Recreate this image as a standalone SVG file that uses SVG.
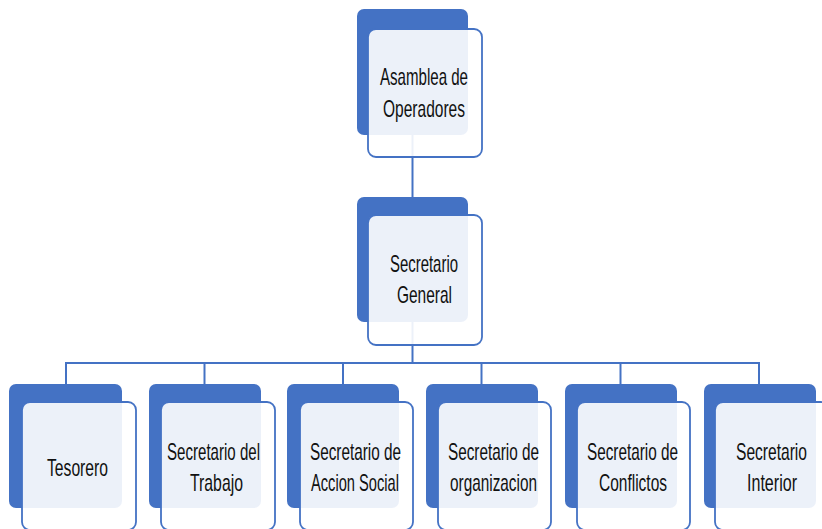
<svg xmlns="http://www.w3.org/2000/svg" width="822" height="529" viewBox="0 0 822 529">
<style>
.back{fill:#4472C4;}
.front{fill:#FFFFFF;fill-opacity:0.9;stroke:#4472C4;stroke-width:1.8;}
.conn{fill:none;stroke:#4472C4;stroke-width:2;}
.lbl{font-family:"Liberation Sans",Arial,sans-serif;font-size:24px;fill:#111111;text-anchor:middle;}
</style>
<rect width="822" height="529" fill="#FFFFFF"/>
<g id="connectors">
<line class="conn" x1="412.5" y1="134" x2="412.5" y2="198"/>
<line class="conn" x1="412.5" y1="321" x2="412.5" y2="363"/>
<polyline class="conn" points="66,385 66,363 759,363 759,385"/>
<line class="conn" x1="204.5" y1="363" x2="204.5" y2="385"/>
<line class="conn" x1="343" y1="363" x2="343" y2="385"/>
<line class="conn" x1="481.5" y1="363" x2="481.5" y2="385"/>
<line class="conn" x1="620.5" y1="363" x2="620.5" y2="385"/>
</g>
<g id="asamblea">
<rect class="back" x="357" y="9" width="111" height="126" rx="7"/>
<rect class="front" x="368" y="29" width="114" height="128" rx="8"/>
<text class="lbl" x="424" y="85" textLength="88" lengthAdjust="spacingAndGlyphs">Asamblea de</text>
<text class="lbl" x="424" y="117" textLength="82" lengthAdjust="spacingAndGlyphs">Operadores</text>
</g>
<g id="secretario-general">
<rect class="back" x="357" y="197" width="111" height="125" rx="7"/>
<rect class="front" x="368" y="215" width="114" height="130" rx="8"/>
<text class="lbl" x="424" y="272" textLength="68" lengthAdjust="spacingAndGlyphs">Secretario</text>
<text class="lbl" x="424.5" y="303" textLength="55" lengthAdjust="spacingAndGlyphs">General</text>
</g>
<g id="tesorero">
<rect class="back" x="9" y="384" width="113" height="124" rx="7"/>
<rect class="front" x="22" y="402" width="114" height="128" rx="8"/>
<text class="lbl" x="77.5" y="476" textLength="61" lengthAdjust="spacingAndGlyphs">Tesorero</text>
</g>
<g id="sec-trabajo">
<rect class="back" x="149" y="384" width="112" height="124" rx="7"/>
<rect class="front" x="161" y="402" width="114" height="128" rx="8"/>
<text class="lbl" x="213.5" y="460" textLength="93" lengthAdjust="spacingAndGlyphs">Secretario del</text>
<text class="lbl" x="216.5" y="491" textLength="53" lengthAdjust="spacingAndGlyphs">Trabajo</text>
</g>
<g id="sec-accion-social">
<rect class="back" x="287" y="384" width="112" height="124" rx="7"/>
<rect class="front" x="300" y="402" width="113" height="128" rx="8"/>
<text class="lbl" x="355.5" y="460" textLength="91" lengthAdjust="spacingAndGlyphs">Secretario de</text>
<text class="lbl" x="355" y="491" textLength="88" lengthAdjust="spacingAndGlyphs">Accion Social</text>
</g>
<g id="sec-organizacion">
<rect class="back" x="426" y="384" width="112" height="124" rx="7"/>
<rect class="front" x="438" y="402" width="113" height="128" rx="8"/>
<text class="lbl" x="493.5" y="460" textLength="91" lengthAdjust="spacingAndGlyphs">Secretario de</text>
<text class="lbl" x="493.5" y="491" textLength="87" lengthAdjust="spacingAndGlyphs">organizacion</text>
</g>
<g id="sec-conflictos">
<rect class="back" x="565" y="384" width="112" height="124" rx="7"/>
<rect class="front" x="577" y="402" width="113" height="128" rx="8"/>
<text class="lbl" x="632.5" y="460" textLength="91" lengthAdjust="spacingAndGlyphs">Secretario de</text>
<text class="lbl" x="633" y="491" textLength="68" lengthAdjust="spacingAndGlyphs">Conflictos</text>
</g>
<g id="sec-interior">
<rect class="back" x="704" y="384" width="112" height="124" rx="7"/>
<rect class="front" x="715" y="402" width="114" height="128" rx="8"/>
<text class="lbl" x="771.5" y="460" textLength="71" lengthAdjust="spacingAndGlyphs">Secretario</text>
<text class="lbl" x="772" y="491" textLength="50" lengthAdjust="spacingAndGlyphs">Interior</text>
</g>
</svg>
